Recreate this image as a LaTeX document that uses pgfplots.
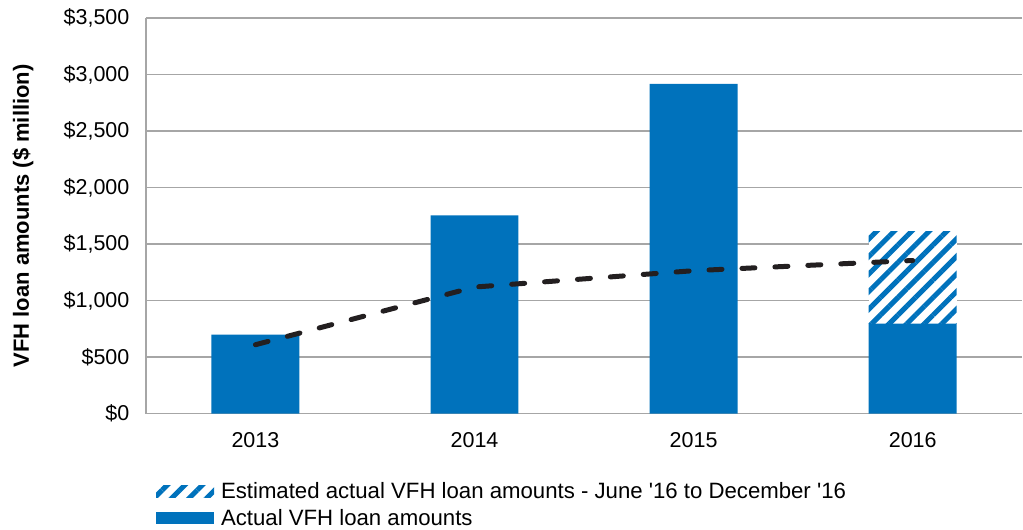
\documentclass[border=0pt]{standalone}
\usepackage{fontspec}
\setmainfont{Liberation Sans}
\newfontfamily\legfont{Liberation Sans}
\usepackage{pgfplots}
\pgfplotsset{compat=1.18}
\usetikzlibrary{patterns.meta}
\definecolor{vfhblue}{RGB}{0,114,188}
\definecolor{gridgray}{RGB}{166,166,166}
\definecolor{linek}{RGB}{35,31,32}
\pgfplotsset{swatch legend/.style={legend image code/.code={\path[##1] (0pt,-6pt) rectangle (58pt,6pt);}},
  common/.style={scale only axis, width=877pt, height=396pt,
  xmin=-0.5, xmax=3.5, ymin=0, ymax=3500}}
\begin{document}
\begin{tikzpicture}
\begin{axis}[
  common,
  ybar stacked, bar width=88pt,
  axis x line*=bottom, axis y line*=left,
  axis line style={gridgray, line width=1.5pt},
  ymajorgrids, grid style={gridgray, line width=1.5pt},
  major tick length=0pt,
  xtick={0,1,2,3}, xticklabels={2013,2014,2015,2016},
  ytick={0,500,...,3500},
  yticklabels={{\$0},{\$500},{\$1,000},{\$1,500},{\$2,000},{\$2,500},{\$3,000},{\$3,500}},
  tick label style={font=\fontsize{21.5}{25}\selectfont, text=black},
  yticklabel style={xshift=-13pt},
  xticklabel style={yshift=-15pt},
  ylabel={VFH loan amounts (\$ million)},
  every axis y label/.style={at={(rel axis cs:0,0.5)}, xshift=-123pt, rotate=90, anchor=center, font=\fontsize{22}{26}\selectfont\bfseries},
  legend style={at={(rel axis cs:0,0)}, anchor=north west, xshift=10pt, yshift=-68pt,
    draw=none, fill=none, font=\legfont\fontsize{22.2}{26}\selectfont, inner sep=0pt,
    row sep=7pt, nodes={inner sep=1pt},
    /tikz/every odd column/.style={column sep=6pt}},
  legend cell align=left,
  reverse legend,
]
\coordinate (ll) at (rel axis cs:0,0);
\coordinate (ur) at (rel axis cs:1,1);
\addplot[fill=vfhblue, draw=none, swatch legend]
  coordinates {(0,700) (1,1755) (2,2918) (3,797)};
\addlegendentry{Actual VFH loan amounts}
\addplot[fill=white, draw=none,
  postaction={pattern={Lines[angle=45,distance=12.4pt,line width=5pt]}, pattern color=vfhblue},
  swatch legend]
  coordinates {(0,0) (1,0) (2,0) (3,813)};
\addlegendentry{Estimated actual VFH loan amounts - June '16 to December '16}
\end{axis}
\begin{axis}[common, hide axis]
\addplot[sharp plot, linek, line width=5pt, line cap=round, dash pattern=on 13pt off 20pt]
  coordinates {(0,610) (1,1120) (2,1265) (3,1355)};
\end{axis}
\path ([xshift=-146pt,yshift=-116pt]ll) rectangle ([yshift=18pt]ur);
\end{tikzpicture}
\end{document}
